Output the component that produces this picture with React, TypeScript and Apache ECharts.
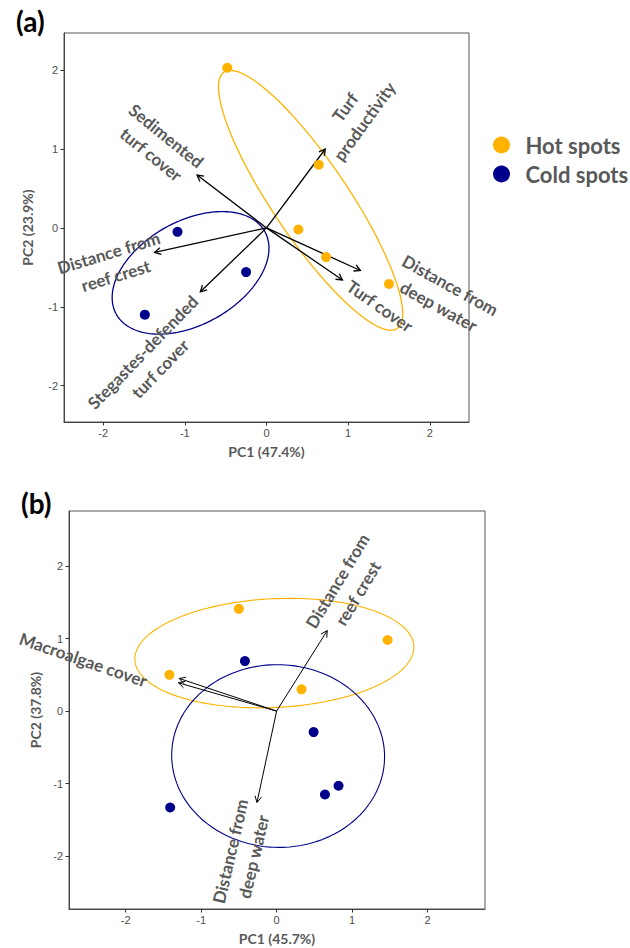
import React, { useEffect, useRef } from 'react';
import * as echarts from 'echarts';

// ---------- data ----------
const hotA = [[-0.48, 2.03], [0.64, 0.80], [0.39, -0.02], [0.73, -0.37], [1.50, -0.71]];
const coldA = [[-1.09, -0.05], [-0.25, -0.56], [-1.49, -1.10]];
const hotB = [[-0.50, 1.41], [-1.42, 0.50], [0.33, 0.30], [1.47, 0.98]];
const coldB = [[-0.42, 0.69], [0.49, -0.29], [-1.41, -1.33], [0.64, -1.15], [0.82, -1.03]];

// PCA loadings (arrow tips)
const loadingsA = [[-0.85, 0.67], [0.72, 1.00], [-1.37, -0.31], [-0.81, -0.81], [1.15, -0.54], [0.93, -0.66]];
const loadingsB = [[-1.30, 0.39], [-1.29, 0.45], [0.67, 1.11], [-0.26, -1.26]];

// variable labels
const labelTextA = ['Sedimented\nturf cover', 'Turf\nproductivity', 'Distance from\nreef crest', 'Stegastes-defended\nturf cover', 'Distance from\ndeep water', 'Turf cover'];
const labelTextB = ['Macroalgae cover', 'Distance from\nreef crest', 'Distance from\ndeep water'];

// confidence ellipses: [centerX, centerY, semiMajor, semiMinor, angleDeg]
const hotEllipseA = [0.54, 0.35, 1.94, 0.47, -57];
const coldEllipseA = [-0.93, -0.57, 1.05, 0.65, 31];
const hotEllipseB = [-0.03, 0.80, 1.85, 0.75, 3];
const coldEllipseB = [0.02, -0.62, 1.41, 1.26, -2];

const ticks = [-2, -1, 0, 1, 2];
const axisNames = { ax: 'PC1 (47.4%)', ay: 'PC2 (23.9%)', bx: 'PC1 (45.7%)', by: 'PC2 (37.8%)' };

// ---------- layout (label placement) ----------
const labelPosA = [[-1.32, 1.05], [1.08, 1.44], [-1.89, -0.46], [-1.41, -1.68], [2.18, -0.86], [1.39, -0.99]];
const labelRotA = [-39, 54, 17, 46, -29, -35];
const labelPosB = [[-2.56, 0.71], [0.94, 1.71], [-0.46, -1.97]];
const labelRotB = [-19, 59, 77];

const HOT = '#FFB300';
const COLD = '#00008B';
const LABEL_GRAY = '#595959';

function ellipseSeries(params: number[], color: string, xi: number, lw: number) {
  return {
    type: 'custom',
    xAxisIndex: xi,
    yAxisIndex: xi,
    z: 2,
    silent: true,
    data: [params],
    renderItem: (p: any, api: any) => {
      const cx = api.value(0), cy = api.value(1), a = api.value(2), b = api.value(3);
      const th = (api.value(4) * Math.PI) / 180;
      const pts: number[][] = [];
      const N = 180;
      for (let i = 0; i < N; i++) {
        const t = (i / N) * Math.PI * 2;
        const ex = a * Math.cos(t), ey = b * Math.sin(t);
        const x = cx + ex * Math.cos(th) - ey * Math.sin(th);
        const y = cy + ex * Math.sin(th) + ey * Math.cos(th);
        pts.push(api.coord([x, y]));
      }
      return { type: 'polygon', shape: { points: pts }, style: { fill: 'none', stroke: color, lineWidth: lw } };
    },
  };
}

function arrowSeries(data: number[][], xi: number, lw: number) {
  return {
    type: 'custom',
    xAxisIndex: xi,
    yAxisIndex: xi,
    z: 3,
    silent: true,
    data,
    renderItem: (p: any, api: any) => {
      const o = api.coord([0, 0]);
      const t = api.coord([api.value(0), api.value(1)]);
      const ang = Math.atan2(t[1] - o[1], t[0] - o[0]);
      const L = 7, s = 0.5;
      const h1 = [t[0] - L * Math.cos(ang - s), t[1] - L * Math.sin(ang - s)];
      const h2 = [t[0] - L * Math.cos(ang + s), t[1] - L * Math.sin(ang + s)];
      return {
        type: 'group',
        children: [
          { type: 'line', shape: { x1: o[0], y1: o[1], x2: t[0], y2: t[1] }, style: { stroke: '#000', lineWidth: lw } },
          { type: 'polyline', shape: { points: [h1, t, h2] }, style: { stroke: '#000', lineWidth: lw, fill: 'none' } },
        ],
      };
    },
  };
}

function labelSeries(pos: number[][], texts: string[], rots: number[], xi: number) {
  return {
    type: 'custom',
    xAxisIndex: xi,
    yAxisIndex: xi,
    z: 5,
    silent: true,
    data: pos,
    renderItem: (p: any, api: any) => {
      const c = api.coord([api.value(0), api.value(1)]);
      return {
        type: 'text',
        x: c[0],
        y: c[1],
        rotation: (rots[p.dataIndex] * Math.PI) / 180,
        style: {
          text: texts[p.dataIndex],
          fill: LABEL_GRAY,
          fontSize: 17,
          fontWeight: 'bold',
          fontFamily: 'Lato',
          lineHeight: 24,
          align: 'center',
          verticalAlign: 'middle',
        },
      };
    },
  };
}

function xAxis(gi: number, min: number, max: number, name: string) {
  return {
    type: 'value', gridIndex: gi, min, max, name, nameLocation: 'middle', nameGap: 22,
    nameTextStyle: { fontFamily: 'Lato', fontWeight: 'bold', fontSize: 14, color: LABEL_GRAY },
    axisLine: { show: true, onZero: false, lineStyle: { color: '#444', width: 1 } },
    axisTick: { show: true, length: 3.5, lineStyle: { color: '#333' }, customValues: ticks },
    axisLabel: { customValues: ticks, margin: 5, color: '#4d4d4d', fontSize: 11, fontFamily: 'Liberation Sans' },
    splitLine: { show: false },
  };
}
function yAxis(gi: number, min: number, max: number, name: string, gap: number) {
  return {
    type: 'value', gridIndex: gi, min, max, name, nameLocation: 'middle', nameGap: gap,
    nameTextStyle: { fontFamily: 'Lato', fontWeight: 'bold', fontSize: 14, color: LABEL_GRAY },
    axisLine: { show: true, onZero: false, lineStyle: { color: '#444', width: 1 } },
    axisTick: { show: true, length: 3.5, lineStyle: { color: '#333' }, customValues: ticks },
    axisLabel: { customValues: ticks, margin: 6, color: '#4d4d4d', fontSize: 11, fontFamily: 'Liberation Sans' },
    splitLine: { show: false },
  };
}

function scatter(name: string, data: number[][], color: string, xi: number) {
  return {
    type: 'scatter', name, data, xAxisIndex: xi, yAxisIndex: xi, symbol: 'circle', symbolSize: 10, z: 4,
    itemStyle: { color, opacity: 1 },
  };
}

export default function App() {
  const ref = useRef<HTMLDivElement>(null);
  useEffect(() => {
    if (!ref.current) return;
    const chart = echarts.init(ref.current, undefined, { renderer: 'svg' });
    const titleStyle = { fontFamily: 'Lato', fontWeight: 'bold', fontSize: 28, color: '#000' };
    chart.setOption({
      animation: false,
      backgroundColor: '#fff',
      title: [
        { text: '(a)', left: 11, top: 2, textStyle: titleStyle },
        { text: '(b)', left: 16, top: 484, textStyle: titleStyle },
      ],
      legend: {
        orient: 'vertical', left: 488, top: 129, icon: 'circle', itemWidth: 38, itemHeight: 17, itemGap: 7,
        selectedMode: false,
        data: ['Hot spots', 'Cold spots'],
        textStyle: { fontSize: 22, fontWeight: 'bold', color: LABEL_GRAY, fontFamily: 'Lato', lineHeight: 22 },
      },
      grid: [
        { left: 64, top: 33, width: 405, height: 389, show: true, borderColor: '#555', borderWidth: 1 },
        { left: 69, top: 511, width: 416, height: 398, show: true, borderColor: '#555', borderWidth: 1 },
      ],
      xAxis: [xAxis(0, -2.48, 2.48, axisNames.ax), xAxis(1, -2.75, 2.76, axisNames.bx)],
      yAxis: [yAxis(0, -2.46, 2.47, axisNames.ay, 30), yAxis(1, -2.73, 2.76, axisNames.by, 26)],
      series: [
        ellipseSeries(hotEllipseA, HOT, 0, 1.3),
        ellipseSeries(coldEllipseA, COLD, 0, 1.3),
        ellipseSeries(hotEllipseB, HOT, 1, 1.1),
        ellipseSeries(coldEllipseB, COLD, 1, 1.1),
        arrowSeries(loadingsA, 0, 1.3),
        arrowSeries(loadingsB, 1, 1),
        scatter('Hot spots', hotA, HOT, 0),
        scatter('Cold spots', coldA, COLD, 0),
        scatter('Hot spots', hotB, HOT, 1),
        scatter('Cold spots', coldB, COLD, 1),
        labelSeries(labelPosA, labelTextA, labelRotA, 0),
        labelSeries(labelPosB, labelTextB, labelRotB, 1),
      ],
    });
    return () => chart.dispose();
  }, []);
  return <div ref={ref} style={{ position: 'absolute', left: 0, top: 0, width: 630, height: 948 }} />;
}
